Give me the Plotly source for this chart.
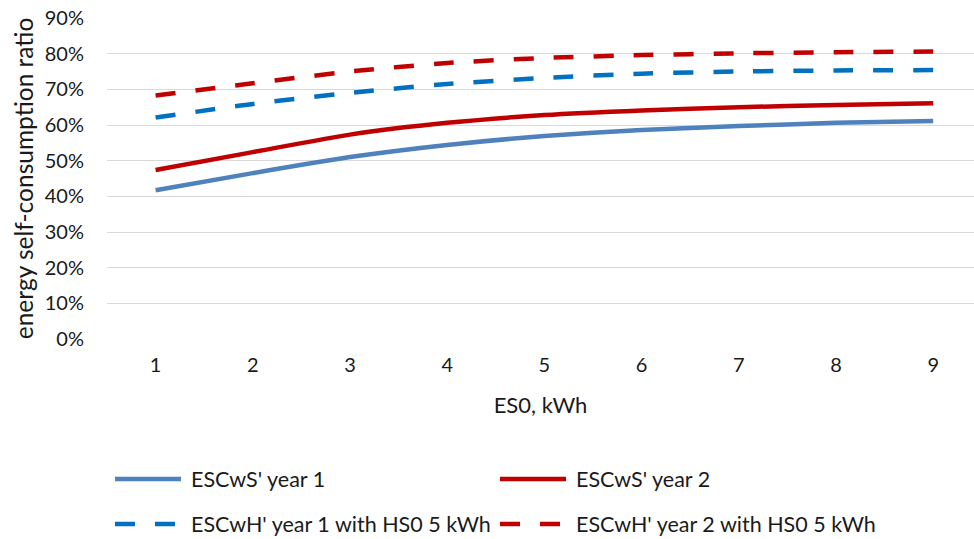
import plotly.graph_objects as go

x_vals = [1, 2, 3, 4, 5, 6, 7, 8, 9]
escws_y1 = [0.417, 0.465, 0.510, 0.544, 0.569, 0.586, 0.597, 0.606, 0.611]
escws_y2 = [0.474, 0.524, 0.573, 0.606, 0.628, 0.641, 0.650, 0.656, 0.661]
escwh_y1 = [0.621, 0.659, 0.690, 0.715, 0.732, 0.744, 0.750, 0.753, 0.754]
escwh_y2 = [0.683, 0.717, 0.750, 0.774, 0.788, 0.796, 0.801, 0.804, 0.806]
y_ticks = [0, 0.1, 0.2, 0.3, 0.4, 0.5, 0.6, 0.7, 0.8, 0.9]
y_labels = ["0%", "10%", "20%", "30%", "40%", "50%", "60%", "70%", "80%", "90%"]

names = ["ESCwS' year 1", "ESCwS' year 2",
         "ESCwH' year 1 with HS0 5 kWh", "ESCwH' year 2 with HS0 5 kWh"]
colors = ["#4F81BD", "#C00000", "#0070C0", "#C00000"]
dashes = ["solid", "solid", "20px,20px", "20px,20px"]
series = [escws_y1, escws_y2, escwh_y1, escwh_y2]

FONT = "Lato, Carlito, Calibri, sans-serif"
TXT = "#1a1a1a"
W, H = 974, 539
ML, MR, MT, MB = 107, 0, 18, 200

fig = go.Figure()
for name, ys, c, d in zip(names, series, colors, dashes):
    fig.add_trace(go.Scatter(x=x_vals, y=ys, mode="lines", name=name,
                             line=dict(color=c, width=4.5, dash=d, shape="spline", smoothing=0.6),
                             showlegend=False))

# custom legend (pixel -> paper coords)
pw = W - ML - MR
ph = H - MT - MB
def px(xp):
    return (xp - ML) / pw
def py(yp):
    return (H - MB - yp) / ph

legend_pos = [(115, 479), (500, 479), (115, 524), (500, 524)]
shapes = []
annotations = []
for (lx, ly), name, c, d in zip(legend_pos, names, colors, dashes):
    shapes.append(dict(type="line", xref="paper", yref="paper",
                       x0=px(lx), x1=px(lx + 66), y0=py(ly), y1=py(ly),
                       line=dict(color=c, width=4.5, dash=d)))
    annotations.append(dict(text=name, xref="paper", yref="paper",
                            x=px(lx + 74), y=py(ly), xanchor="left", yanchor="middle",
                            showarrow=False, font=dict(family=FONT, size=21.5, color=TXT)))

fig.update_layout(
    width=W, height=H,
    margin=dict(l=ML, r=MR, t=MT, b=MB),
    paper_bgcolor="white", plot_bgcolor="white",
    font=dict(family=FONT, size=20, color=TXT),
    shapes=shapes, annotations=annotations,
    xaxis=dict(range=[0.5, 9.42], tickmode="array", tickvals=x_vals,
               ticktext=[str(v) for v in x_vals], showgrid=False, zeroline=False,
               showline=False, ticks="", ticklabelstandoff=12,
               tickfont=dict(family=FONT, size=20, color=TXT),
               title=dict(text="ES0, kWh", font=dict(family=FONT, size=22, color=TXT), standoff=22)),
    yaxis=dict(range=[0, 0.9], tickmode="array", tickvals=y_ticks, ticktext=y_labels,
               showgrid=True, gridcolor="#D9D9D9", gridwidth=1, zeroline=False,
               showline=False, ticks="", ticklabelstandoff=22,
               tickfont=dict(family=FONT, size=20, color=TXT),
               title=dict(text="energy self-consumption ratio", font=dict(family=FONT, size=24.5, color=TXT),
                          standoff=4)),
)

fig.write_html("out.html", config={"displayModeBar": False},
               post_script="document.body.style.margin='0px';document.body.style.overflow='hidden';")
